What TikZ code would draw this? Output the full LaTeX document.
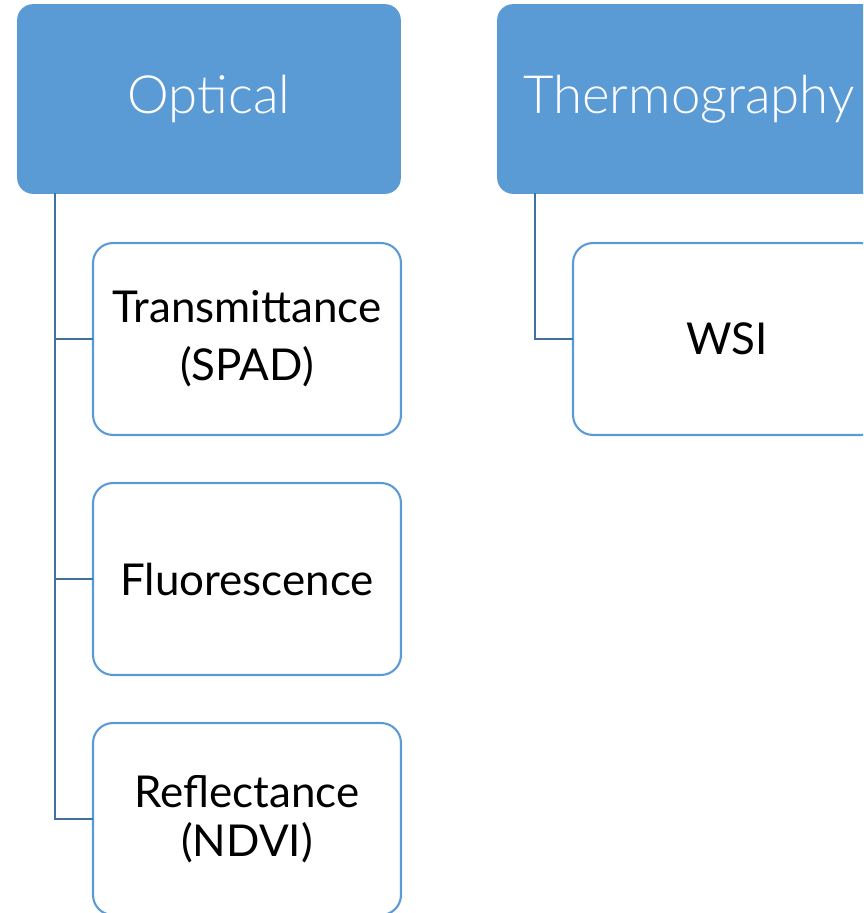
\documentclass[tikz,border=0pt]{standalone}
\usepackage{fontspec}
\setmainfont{Lato}
\newfontfamily\headfont{Lato Light}
\usepackage{xcolor}
\usepackage{tikz}
\usetikzlibrary{positioning}

\definecolor{headblue}{HTML}{5B9BD5}
\definecolor{linkblue}{HTML}{41719C}

\begin{document}
\begin{tikzpicture}[
    x=0.02cm, y=-0.02cm,
    group/.style={rectangle, rounded corners=0.3cm, fill=headblue, draw=headblue, line width=1pt, outer sep=0pt,
        inner xsep=0pt, minimum width=7.64cm, minimum height=3.76cm, text=white,
        font=\headfont\fontsize{30}{36}\selectfont},
    method/.style={rectangle, rounded corners=0.4cm, draw=headblue, fill=white, line width=1.2pt, outer sep=0pt,
        minimum width=6.16cm, minimum height=3.84cm, align=center, font=\fontsize{25}{28}\selectfont},
    link/.style={draw=linkblue, line width=1.3pt}
]
\useasboundingbox (0,0) rectangle (863,913);
\clip (0,0) rectangle (863,913);

% top level groups
\node[group] (optical) at (209, 99) {Optical};
\node[group] (thermo) at (689, 99) {Thermography};

% optical methods
\node[method] (trans) at (247, 339) {Transmittance\\[5pt](SPAD)};
\node[method] (fluor) at (247, 579) {Fluorescence};
\node[method] (refl) at (247, 819) {Reflectance\\(NDVI)};

% thermal methods
\node[method] (wsi) at (727, 339) {WSI};

% tree connectors
\draw[link] ([xshift=0.74cm]optical.south west) |- (trans.west);
\draw[link] ([xshift=0.74cm]optical.south west) |- (fluor.west);
\draw[link] ([xshift=0.74cm]optical.south west) |- (refl.west);
\draw[link] ([xshift=0.74cm]thermo.south west) |- (wsi.west);

\end{tikzpicture}
\end{document}
